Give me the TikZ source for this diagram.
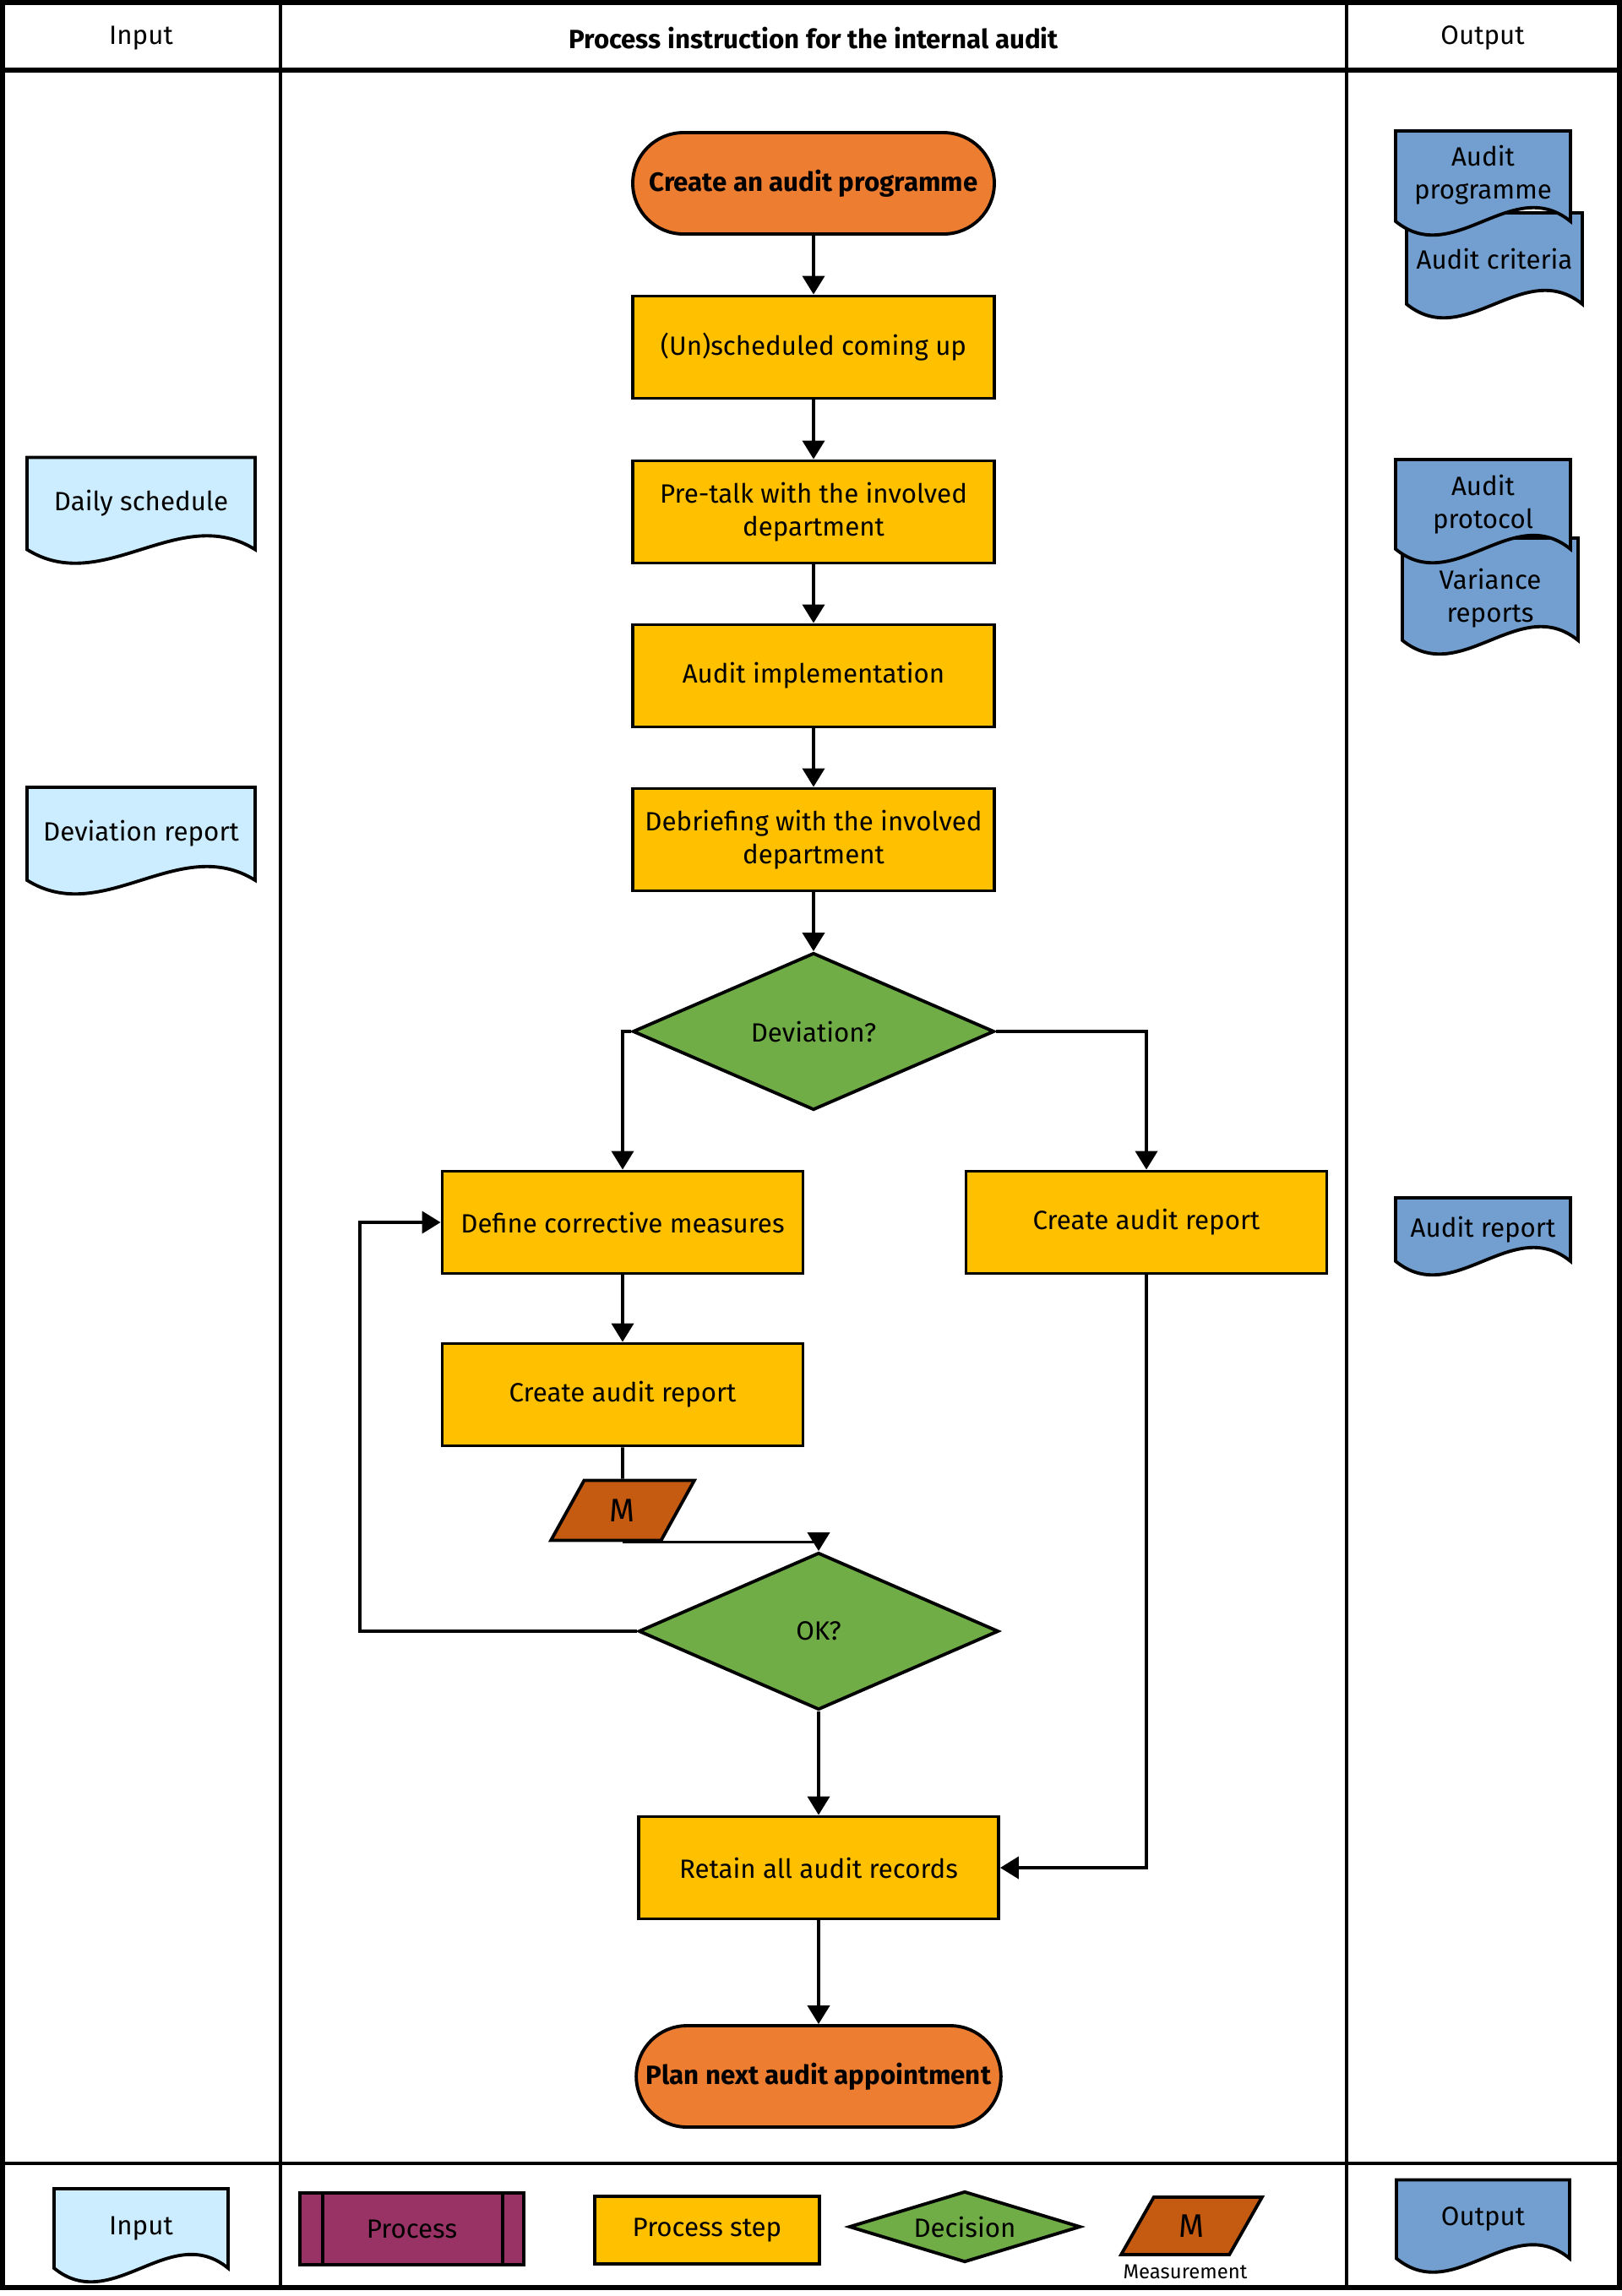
\documentclass[tikz,border=0pt]{standalone}
\usepackage{fontspec}
\setmainfont{Fira Sans}
\usepackage{tikz}
\usetikzlibrary{arrows.meta, shapes.geometric, calc, backgrounds}

\definecolor{termorange}{HTML}{ED7D31}
\definecolor{stepyellow}{HTML}{FFC000}
\definecolor{decgreen}{HTML}{70AD47}
\definecolor{measbrown}{HTML}{C55A11}
\definecolor{procpurple}{HTML}{993366}
\definecolor{inblue}{HTML}{CCECFF}
\definecolor{outblue}{HTML}{729FCF}

\newcommand{\flowfont}{\fontsize{8.9pt}{11.2pt}\selectfont}

% wavy document outline behind a node (optional: extra height on top)
\newcommand{\docwave}[3][0pt]{%
  \begin{pgfonlayer}{background}
    \draw[line width=1.1pt, fill=#3]
      let \p1=(#2.south west), \p2=(#2.north east), \n1={\x2-\x1} in
      (\x1,{\y2+#1}) -- (\x2,{\y2+#1}) -- (\x2,\y1)
      .. controls ({\x2-\n1/3},{\y1+16pt}) and ({\x1+\n1/3},{\y1-16pt}) .. (\x1,\y1) -- cycle;
  \end{pgfonlayer}}

\begin{document}
\begin{tikzpicture}[
        font=\flowfont,
        frame/.style={line width=1.6pt},
        lane/.style={line width=1.2pt},
        term/.style={draw, fill=termorange, line width=1.1pt, rounded corners=0.6cm,
                     minimum width=4.28cm, minimum height=1.2cm, align=center,
                     font=\flowfont\bfseries},
        stepbox/.style={draw, fill=stepyellow, line width=1.1pt,
                        minimum width=4.28cm, minimum height=1.21cm, align=center},
        decide/.style={diamond, draw, fill=decgreen, line width=1.1pt, aspect=2.3,
                       minimum width=4.28cm, minimum height=1.86cm, inner sep=0pt},
        meas/.style={trapezium, trapezium left angle=64, trapezium right angle=116,
                     trapezium stretches=true, draw, fill=measbrown, line width=1.1pt,
                     minimum width=1.7cm, minimum height=0.71cm, inner sep=0pt,
                     font=\fontsize{11pt}{12pt}\selectfont},
        doc/.style={minimum width=2.07cm, minimum height=1.1cm, align=center,
                    inner sep=0pt, outer sep=0pt},
        arr/.style={-{Triangle[length=0.22cm, width=0.26cm]}, line width=1.1pt},
        con/.style={line width=1.1pt}
    ]
    \useasboundingbox (0,0) rectangle (19.2,-27.18);

    % Lanes
    \draw[frame] (0.03,-0.03) rectangle (19.17,-27.08);
    \draw[lane] (3.32,-0.03) -- (3.32,-27.08);
    \draw[lane] (15.94,-0.03) -- (15.94,-27.08);
    \draw[frame] (0.03,-0.83) -- (19.17,-0.83);
    \draw[lane] (0.03,-25.61) -- (19.17,-25.61);

    \node (inhead) at (1.67,-0.45) {Input};
    \node[font=\flowfont\bfseries] (prochead) at (9.63,-0.45) {Process instruction for the internal audit};
    \node (outhead) at (17.55,-0.45) {Output};

    % Main flow
    \node[term] (start) at (9.63,-2.17) {Create an audit programme};
    \node[stepbox] (unsched) at (9.63,-4.11) {(Un)scheduled coming up};
    \node[stepbox] (pretalk) at (9.63,-6.06) {Pre-talk with the involved\\department};
    \node[stepbox] (implement) at (9.63,-8.00) {Audit implementation};
    \node[stepbox] (debrief) at (9.63,-9.94) {Debriefing with the involved\\department};
    \node[decide] (deviation) at (9.63,-12.21) {Deviation?};

    \node[stepbox, minimum width=4.27cm] (corrective) at (7.37,-14.47) {Define corrective measures};
    \node[stepbox, minimum width=4.27cm] (reportright) at (13.57,-14.47) {Create audit report};
    \node[stepbox, minimum width=4.27cm] (reportleft) at (7.37,-16.51) {Create audit report};
    \node[meas] (measure) at (7.37,-17.88) {M};

    \node[decide, minimum width=4.26cm] (okcheck) at (9.69,-19.31) {OK?};
    \node[stepbox, minimum width=4.26cm] (retain) at (9.69,-22.11) {Retain all audit records};
    \node[term, minimum width=4.26cm] (planend) at (9.69,-24.58) {Plan next audit appointment};

    \coordinate (loopturn) at (4.26,-14.47);

    % Connectors
    \draw[arr] (start) -- (unsched);
    \draw[arr] (unsched) -- (pretalk);
    \draw[arr] (pretalk) -- (implement);
    \draw[arr] (implement) -- (debrief);
    \draw[arr] (debrief) -- (deviation);
    \draw[arr] (deviation.west) -| (corrective.north);
    \draw[arr] (deviation.east) -| (reportright.north);
    \draw[arr] (corrective) -- (reportleft);
    \draw[con] (reportleft) -- (measure);
    \draw[arr] (measure.south) -| (okcheck.north);
    \draw[arr] (okcheck.west) -| (loopturn) -- (corrective.west);
    \draw[arr] (okcheck) -- (retain);
    \draw[arr] (reportright.south) |- (retain.east);
    \draw[arr] (retain) -- (planend);

    % Inputs
    \node[doc, minimum width=2.70cm, minimum height=1.09cm] (daily) at (1.67,-5.96) {Daily schedule};
    \docwave{daily}{inblue}
    \node[doc, minimum width=2.70cm, minimum height=1.10cm] (devreport) at (1.67,-9.87) {Deviation report};
    \docwave{devreport}{inblue}

    % Outputs
    \node[doc, minimum width=2.08cm, minimum height=1.08cm] (criteria) at (17.69,-3.06) {Audit criteria};
    \docwave{criteria}{outblue}
    \node[doc] (programme) at (17.555,-2.07) {Audit\\programme};
    \docwave[-0.03cm]{programme}{outblue}
    \node[doc, minimum width=2.08cm, minimum height=1.0cm] (variance) at (17.64,-7.08) {Variance\\reports};
    \docwave[0.21cm]{variance}{outblue}
    \node[doc, minimum height=1.06cm] (protocol) at (17.555,-5.97) {Audit\\protocol};
    \docwave{protocol}{outblue}
    \node[doc, minimum height=0.75cm] (auditreport) at (17.555,-14.555) {Audit report};
    \docwave{auditreport}{outblue}

    % Legend
    \node[doc, minimum width=2.06cm, minimum height=0.94cm] (leginput) at (1.67,-26.38) {Input};
    \docwave{leginput}{inblue}
    \node[draw, fill=procpurple, line width=1.1pt, minimum width=2.65cm, minimum height=0.85cm] (legproc) at (4.875,-26.385) {Process};
    \draw[con] ($(legproc.north west)+(0.29,0)$) -- ($(legproc.south west)+(0.29,0)$);
    \draw[con] ($(legproc.north east)+(-0.27,0)$) -- ($(legproc.south east)+(-0.27,0)$);
    \node[stepbox, minimum width=2.66cm, minimum height=0.80cm] (legstep) at (8.37,-26.40) {Process step};
    \node[decide, minimum width=2.74cm, minimum height=0.84cm] (legdecide) at (11.42,-26.36) {Decision};
    \node[meas, minimum width=1.67cm, minimum height=0.68cm] (legmeas) at (14.105,-26.35) {M};
    \node[font=\fontsize{6.8pt}{7.5pt}\selectfont, anchor=north] (legmeaslab) at (14.03,-26.69) {Measurement};
    \node[doc, minimum width=2.05cm, minimum height=0.93cm] (legoutput) at (17.555,-26.27) {Output};
    \docwave{legoutput}{outblue}
\end{tikzpicture}
\end{document}
